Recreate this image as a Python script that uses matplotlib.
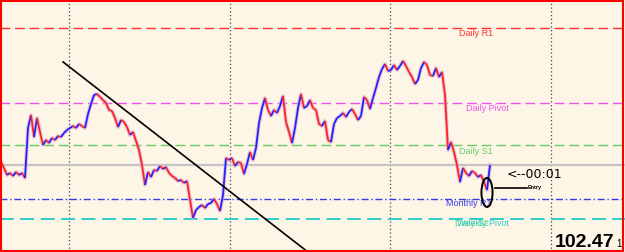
import numpy as np
import matplotlib
matplotlib.use("Agg")
import matplotlib.pyplot as plt
from matplotlib.collections import LineCollection
from matplotlib.patches import Ellipse, Rectangle

# closing prices, one per bar
closes = [
    102.485, 102.455, 102.42, 102.43, 102.415, 102.435, 102.42, 102.43, 102.405,
    102.655, 102.72, 102.61, 102.705, 102.635, 102.57, 102.595, 102.58, 102.605,
    102.595, 102.615, 102.61, 102.63, 102.645, 102.655, 102.665, 102.655, 102.675,
    102.665, 102.655, 102.725, 102.775, 102.82, 102.825, 102.81, 102.795, 102.78,
    102.745, 102.74, 102.705, 102.66, 102.695, 102.685, 102.66, 102.62, 102.635,
    102.59, 102.545, 102.47, 102.37, 102.435, 102.41, 102.445, 102.44, 102.465,
    102.45, 102.46, 102.43, 102.415, 102.405, 102.39, 102.395, 102.38, 102.39,
    102.295, 102.205, 102.245, 102.26, 102.27, 102.255, 102.275, 102.28, 102.30,
    102.275, 102.24, 102.32, 102.505, 102.495, 102.505, 102.465, 102.485, 102.48,
    102.425, 102.475, 102.535, 102.495, 102.555, 102.68, 102.755, 102.805, 102.745,
    102.715, 102.745, 102.73, 102.765, 102.815, 102.685, 102.635, 102.58, 102.655,
    102.755, 102.825, 102.755, 102.765, 102.795, 102.755, 102.745, 102.675, 102.665,
    102.69, 102.595, 102.585, 102.675, 102.705, 102.715, 102.73, 102.71, 102.735,
    102.75, 102.725, 102.695, 102.715, 102.81, 102.795, 102.75, 102.805, 102.855,
    102.91, 102.95, 102.975, 102.94, 102.945, 102.97, 102.945, 102.965, 102.99,
    102.965, 102.935, 102.91, 102.875, 102.895, 102.955, 102.985, 102.97, 102.92,
    102.915, 102.955, 102.91, 102.935, 102.82, 102.545, 102.585, 102.535, 102.47,
    102.385, 102.455, 102.43, 102.415, 102.44, 102.43, 102.41, 102.42, 102.385,
    102.345, 102.47,
]

# pivot levels
level_names = ["Daily R1", "Daily Pivot", "Daily S1", "Monthly R1", "Daily S2", "Weekly Pivot"]
level_values = [103.155, 102.78, 102.57, 102.30, 102.20, 102.20]
level_colors = ["#ff3030", "#f050f0", "#66cc66", "#3a3ae8", "#55dd77", "#33ccd0"]
level_styles = [(0, (7, 3.5)), (0, (7, 3.5)), (0, (7, 3.5)), (0, (5, 2, 1, 2)), (0, (7, 3.5)), (0, (7, 3.5))]
label_x = [158.3, 162.0, 158.3, 148.3, 151.3, 152.0]
label_y = [103.13, 102.755, 102.54, 102.275, 102.175, 102.175]
label_ha = ["center", "center", "center", "left", "left", "left"]

bid = 102.47
separators = [22.7, 76.3, 129.7, 183.3]
trend_x = [20.7, 102.3]
trend_y = [102.985, 102.035]

fig = plt.figure(figsize=(6.25, 2.52), dpi=100)
fig.patch.set_facecolor("white")
ax = fig.add_axes([0, 0, 1, 1])
ax.set_facecolor("#fdf5e6")
ax.set_xlim(-1 / 3, 208)
ax.set_ylim(102.035, 103.295)
ax.axis("off")
ax.add_patch(Rectangle((0, 0), 1, 1, transform=ax.transAxes,
                       facecolor="#fdf5e6", edgecolor="none", zorder=0))

for sx in separators:
    ax.axvline(sx, color="#444444", lw=0.9, ls=(0, (1, 2)), zorder=1)

ax.axhline(bid, color="#c4c4c4", lw=1.6, zorder=1)
for v, c, s in zip(level_values, level_colors, level_styles):
    lw = 1.4 if v < 102.25 else 1.0
    ax.axhline(v, color=c, lw=lw, ls=s, zorder=1)

# the S2 and weekly pivot labels sit on top of each other, as in the original
for name, c, x, y, ha in zip(level_names, level_colors, label_x, label_y, label_ha):
    ax.text(x, y, name, color=c, fontsize=6.5, ha=ha, va="center",
            family="Liberation Sans", zorder=2)

# price line, blue up / red down
xs = np.arange(len(closes))
pts = np.column_stack([xs, closes])
segs = np.stack([pts[:-1], pts[1:]], axis=1)
cols = ["#2222ff" if b >= a else "#ff2222" for a, b in zip(closes[:-1], closes[1:])]
ax.plot(xs, closes, color="#e0b0d0", lw=2.8, alpha=0.7, zorder=3)
ax.add_collection(LineCollection(segs, colors=cols, linewidths=1.3, zorder=4))

ax.plot(trend_x, trend_y, color="black", lw=1.2, zorder=5)

ax.add_patch(Ellipse((162, 102.3325), 3.7, 0.145, facecolor="none",
                     edgecolor="black", lw=1.4, zorder=6))
ax.plot([164.7, 175.3], [102.355, 102.355], color="black", lw=1.2, zorder=6)
ax.text(175.6, 102.36, "Entry", fontsize=4, fontweight="bold", va="center",
        family="Liberation Sans", zorder=6)
ax.text(168.7, 102.425, "<--00:01", fontsize=9, va="center",
        family="DejaVu Sans", zorder=6)

ax.text(204.3, 102.06, "102.47", fontsize=14, fontweight="bold", ha="right",
        va="baseline", family="Liberation Sans", zorder=6)
ax.text(205.2, 102.06, "1", fontsize=7, ha="left", va="baseline",
        family="Liberation Sans", zorder=6)

# red frame
fig.patches.append(Rectangle((0.5 / 625, 1.5 / 252), 622 / 625, 249.5 / 252,
                             transform=fig.transFigure, facecolor="none",
                             edgecolor="#ff0000", lw=1.5, zorder=10))

fig.savefig("out.png", dpi=100)
